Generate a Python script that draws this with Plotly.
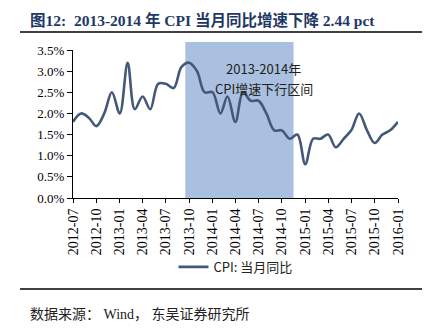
import plotly.graph_objects as go

months = ["2012-07","2012-08","2012-09","2012-10","2012-11","2012-12",
          "2013-01","2013-02","2013-03","2013-04","2013-05","2013-06",
          "2013-07","2013-08","2013-09","2013-10","2013-11","2013-12",
          "2014-01","2014-02","2014-03","2014-04","2014-05","2014-06",
          "2014-07","2014-08","2014-09","2014-10","2014-11","2014-12",
          "2015-01","2015-02","2015-03","2015-04","2015-05","2015-06",
          "2015-07","2015-08","2015-09","2015-10","2015-11","2015-12",
          "2016-01"]
cpi = [1.8, 2.0, 1.9, 1.7, 2.0, 2.5,
       2.0, 3.2, 2.1, 2.4, 2.1, 2.7,
       2.7, 2.6, 3.1, 3.2, 3.0, 2.5,
       2.5, 2.0, 2.4, 1.8, 2.5, 2.3,
       2.3, 2.0, 1.6, 1.6, 1.4, 1.5,
       0.8, 1.4, 1.4, 1.5, 1.2, 1.4,
       1.6, 2.0, 1.6, 1.3, 1.5, 1.6,
       1.8]
y_ticks = [0.0, 0.5, 1.0, 1.5, 2.0, 2.5, 3.0, 3.5]
shade_start = "2013-09-16"
shade_end = "2014-11-16"
note_lines = ["2013-2014年", "CPI增速下行区间"]

x_dates = [m + "-01" for m in months]

fig = go.Figure()
fig.add_trace(go.Scatter(
    x=x_dates, y=cpi, mode="lines", name="CPI: 当月同比",
    line=dict(color="#44587A", width=2.6, shape="spline", smoothing=1.0),
))

fig.add_shape(type="rect", xref="x", yref="paper",
              x0=shade_start, x1=shade_end, y0=0, y1=1.054,
              fillcolor="#A9C0E0", line=dict(width=0), layer="below")

serif = "Liberation Serif, Noto Sans CJK SC"
cjk = "Noto Sans CJK SC"

for txt, yv in zip(note_lines, [3.07, 2.60]):
    fig.add_annotation(x="2014-07-21", y=yv, xref="x", yref="y",
                       text=txt, showarrow=False, yanchor="middle",
                       font=dict(family=cjk, size=13, color="#222222"))

# title
fig.add_annotation(xref="paper", yref="paper", x=-0.138, y=1.203,
                   xanchor="left", yanchor="middle", showarrow=False,
                   text="<b>图12:  2013-2014 年 CPI 当月同比增速下降 2.44 pct</b>",
                   font=dict(family=serif, size=15.5, color="#1F3864"))
# separator lines
fig.add_shape(type="line", xref="paper", yref="paper", x0=-0.163, x1=1.074,
              y0=1.1216, y1=1.1216, line=dict(color="black", width=1.5))
fig.add_shape(type="line", xref="paper", yref="paper", x0=-0.163, x1=1.074,
              y0=-0.615, y1=-0.615, line=dict(color="black", width=1.5))
# source
fig.add_annotation(xref="paper", yref="paper", x=-0.138, y=-0.79,
                   xanchor="left", yanchor="middle", showarrow=False,
                   text="数据来源： Wind， 东吴证券研究所",
                   font=dict(family=serif, size=14, color="#222222"))

fig.update_layout(
    width=432, height=331,
    margin=dict(l=73, r=34, t=50, b=133),
    paper_bgcolor="white", plot_bgcolor="white",
    showlegend=True,
    legend=dict(orientation="h", x=0.5, xanchor="center", y=-0.466,
                yanchor="middle", itemwidth=30,
                font=dict(family=cjk, size=13, color="#222222"),
                bgcolor="rgba(0,0,0,0)"),
    font=dict(family=serif, size=13, color="black"),
)
fig.update_xaxes(
    type="date", range=["2012-07-01", "2016-01-01"],
    tick0="2012-07-01", dtick="M3", tickformat="%Y-%m", tickangle=-90,
    showline=True, linecolor="black", linewidth=1,
    ticks="outside", ticklen=4, tickcolor="black",
    showgrid=False, zeroline=False,
    tickfont=dict(family=serif, size=14, color="black"),
)
fig.update_yaxes(
    range=[0, 3.5], tickvals=y_ticks,
    ticktext=[f"{v:.1f}%" for v in y_ticks],
    showline=True, linecolor="black", linewidth=1,
    ticks="outside", ticklen=5, tickcolor="black",
    showgrid=False, zeroline=False,
    tickfont=dict(family=serif, size=13, color="black"),
)

fig.write_html("out.html")
